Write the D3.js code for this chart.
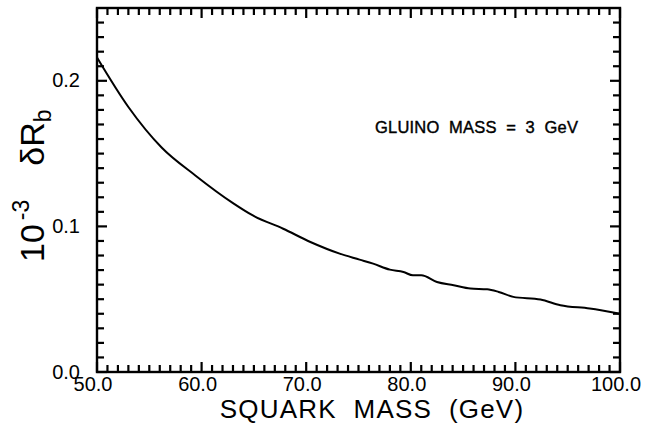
<!DOCTYPE html>
<html>
<head>
<meta charset="utf-8">
<script src="https://cdn.jsdelivr.net/npm/d3@7"></script>
<style>
html,body{margin:0;padding:0;background:#fff;}
svg{display:block;}
text{font-family:"Liberation Sans",Arial,Helvetica,sans-serif;fill:#000;}
</style>
</head>
<body>
<svg id="chart" width="653" height="433"></svg>
<script>
// Data (squark mass in GeV, 10^-3 dR_b)
const squarkMass = [50, 53, 56.2, 59.4, 63, 64.9, 67.8, 70.4, 73.2, 75.1, 76.4, 78, 79.3, 80.2, 81, 82.5, 84.1, 85.7, 87.3, 88.4, 89.8, 92.4, 94.3, 97.1, 100];
const deltaRb   = [0.216, 0.182, 0.154, 0.135, 0.116, 0.1075, 0.0984, 0.0893, 0.0813, 0.0772, 0.0744, 0.0703, 0.0687, 0.0664, 0.0664, 0.0618, 0.0596, 0.0573, 0.0568, 0.055, 0.0516, 0.0498, 0.0459, 0.0436, 0.040];
const xMajorTicks = [50, 60, 70, 80, 90, 100];
const xTickLabels = ["50.0", "60.0", "70.0", "80.0", "90.0", "100.0"];
const yMajorTicks = [0, 0.1, 0.2];
const yTickLabels = ["0.0", "0.1", "0.2"];
const xDomain = [50, 100];
const yDomain = [0, 0.25];
const xTitle = "SQUARK  MASS  (GeV)";
const annotation = "GLUINO  MASS  =  3  GeV";

const svg = d3.select("#chart");
const L = 97, R = 620, T = 8, B = 372;
const x = d3.scaleLinear().domain(xDomain).range([L, R]);
const y = d3.scaleLinear().domain(yDomain).range([B, T]);

const xMinor = d3.range(51, 100, 1).filter(v => v % 10 !== 0);
const yMinor = d3.range(1, 25, 1).filter(v => v % 10 !== 0).map(v => v / 100);

// inward ticks on all four sides
const xTickData = xMajorTicks.map(v => ({v, len: 10})).concat(xMinor.map(v => ({v, len: 7})));
const yTickData = yMajorTicks.map(v => ({v, len: 10})).concat(yMinor.map(v => ({v, len: 7})));

const tg = svg.append("g").attr("stroke", "#000").attr("stroke-width", 2.2);
tg.selectAll("line.xb").data(xTickData).enter().append("line").attr("class", "xb")
  .attr("x1", d => x(d.v)).attr("x2", d => x(d.v)).attr("y1", B).attr("y2", d => B - d.len);
tg.selectAll("line.xt").data(xTickData).enter().append("line").attr("class", "xt")
  .attr("x1", d => x(d.v)).attr("x2", d => x(d.v)).attr("y1", T).attr("y2", d => T + d.len);
tg.selectAll("line.yl").data(yTickData).enter().append("line").attr("class", "yl")
  .attr("y1", d => y(d.v)).attr("y2", d => y(d.v)).attr("x1", L).attr("x2", d => L + d.len);
tg.selectAll("line.yr").data(yTickData).enter().append("line").attr("class", "yr")
  .attr("y1", d => y(d.v)).attr("y2", d => y(d.v)).attr("x1", R).attr("x2", d => R - d.len);

// frame
svg.append("rect").attr("x", L).attr("y", T).attr("width", R - L).attr("height", B - T)
  .attr("fill", "none").attr("stroke", "#000").attr("stroke-width", 2.4);

// tick labels
svg.append("g").selectAll("text").data(xMajorTicks).join("text")
  .attr("x", d => x(d) - 4).attr("y", 391).attr("text-anchor", "middle")
  .attr("font-size", 20).text((d, i) => xTickLabels[i]);
svg.append("g").selectAll("text").data(yMajorTicks).join("text")
  .attr("x", 80).attr("y", d => y(d)).attr("dy", "0.33em").attr("text-anchor", "end")
  .attr("font-size", 20).text((d, i) => yTickLabels[i]);

// curve
const pts = squarkMass.map((m, i) => [m, deltaRb[i]]);
svg.append("path").datum(pts)
  .attr("fill", "none").attr("stroke", "#000").attr("stroke-width", 2)
  .attr("d", d3.line().x(d => x(d[0])).y(d => y(d[1])).curve(d3.curveMonotoneX));

// annotation
svg.append("text").attr("x", 375).attr("y", 133)
  .attr("font-size", 16.5).attr("letter-spacing", 0.2)
  .attr("stroke", "#000").attr("stroke-width", 0.4)
  .style("white-space", "pre").text(annotation);

// x title
svg.append("text").attr("x", 372).attr("y", 418).attr("text-anchor", "middle")
  .attr("font-size", 26).attr("letter-spacing", 1.2)
  .style("white-space", "pre").text(xTitle);

// y title
const yt = svg.append("text").attr("transform", "translate(44,262) rotate(-90)")
  .attr("font-size", 34).style("white-space", "pre");
yt.append("tspan").text("10");
yt.append("tspan").attr("font-size", 23).attr("dy", -15).attr("dx", 4).text("-3");
yt.append("tspan").attr("dy", 15).attr("dx", 34).text("δR");
yt.append("tspan").attr("font-size", 23).attr("dy", 7).text("b");
</script>
</body>
</html>
